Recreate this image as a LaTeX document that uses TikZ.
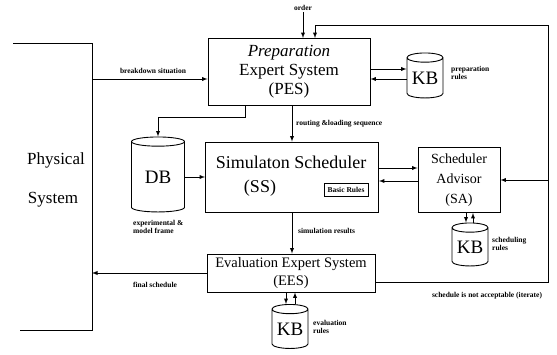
\documentclass[tikz,border=0pt]{standalone}
\usepackage{fontspec}
\setmainfont{Liberation Serif}
\newfontfamily\timesfont{Liberation Serif}
\usetikzlibrary{shapes.geometric}
\newcommand{\bigtext}{\timesfont\fontsize{17}{19}\selectfont}
\newcommand{\tinybold}{\timesfont\fontsize{7.5}{8.5}\selectfont\bfseries}

\begin{document}
\begin{tikzpicture}[x=1pt,y=-1pt,>=latex]

%
% Styles
%
\tikzstyle{block} = [rectangle,draw,line width=0.9pt,inner sep=0pt,align=center]
\tikzstyle{store} = [cylinder,shape border rotate=90,aspect=0.35,draw,line width=0.9pt,inner sep=0pt,font=\timesfont\fontsize{19}{20}\selectfont]
\tikzstyle{note} = [font=\tinybold,align=left,inner sep=1pt]
\tikzstyle{flow} = [->,line width=0.9pt]

\useasboundingbox (0,0) rectangle (557,355);

\node[block,minimum width=162pt,minimum height=67pt,font=\bigtext] (pes) at (289,72) {\textit{Preparation}\\Expert System\\(PES)};
\node[block,minimum width=173pt,minimum height=70pt] (ss) at (292,177) {};
\node[font=\timesfont\fontsize{18}{20}\selectfont] (sstitle) at (291,162) {Simulaton Scheduler};
\node[font=\timesfont\fontsize{18}{20}\selectfont] (ssabbr) at (260,188) {(SS)};
\node[block,note,minimum width=44pt,minimum height=13pt] (rules) at (346,190) {Basic Rules};
\node[block,minimum width=82pt,minimum height=65pt,font=\timesfont\fontsize{14}{20}\selectfont] (sa) at (459,180) {Scheduler\\Advisor\\(SA)};
\node[block,minimum width=168pt,minimum height=38pt,font=\timesfont\fontsize{14.5}{18}\selectfont] (ees) at (291,273) {Evaluation Expert System\\(EES)};

\node[store,minimum width=53pt,minimum height=75pt] (db) at (158,177) {DB};
\node[store,minimum width=36pt,minimum height=45pt] (kbp) at (425,78) {KB};
\node[store,minimum width=36pt,minimum height=43pt] (kbs) at (470,247) {KB};
\node[store,minimum width=36pt,minimum height=44pt] (kbe) at (290,329) {KB};

\node[font=\bigtext] (phys) at (56,160) {Physical};
\node[font=\bigtext] (syst) at (53,200) {System};
\coordinate (phtop) at (92,43);
\coordinate (phbot) at (92,330);
\draw[line width=0.9pt] (13,43) -- (phtop) -- (phbot) -- (20,330);

\node[note] (order) at (303,8) {order};
\node[note,anchor=south] (bdnote) at (153,75) {breakdown situation};
\node[note,anchor=west] (rlnote) at (295,124) {routing \&loading sequence};
\node[note,anchor=north west] (dbnote) at (132,219) {experimental \&\\model frame};
\node[note,anchor=west] (kbpnote) at (450,73) {preparation\\rules};
\node[note,anchor=west] (kbsnote) at (491,244) {scheduling\\rules};
\node[note,anchor=west] (kbenote) at (312,327) {evaluation\\rules};
\node[note,anchor=west] (srnote) at (297,231) {simulation results};
\node[note,anchor=north] (fsnote) at (155,281) {final schedule};
\node[note,anchor=north] (itnote) at (487,291) {schedule is not acceptable (iterate)};
\coordinate (loopne) at (548,25);

\draw[flow] (order) -- (order |- pes.north);
\draw[flow] ([yshift=-9pt]ees.east) -| (loopne) -| ([xshift=26pt]pes.north);
\draw[flow] (sa.east -| loopne) -- (sa.east);
\draw[flow] (92,79) -- (pes.west |- 0,79);
\draw[flow] ([yshift=3pt]pes.east) -- ([yshift=3pt]pes.east -| kbp.west);
\draw[flow] ([yshift=-7pt]pes.east -| kbp.west) -- ([yshift=-7pt]pes.east);
\draw[flow] ([xshift=-44pt]pes.south) |- ([yshift=19pt]db.north) -- (db.north);
\draw[flow] ([xshift=3pt]pes.south) -- ([xshift=3pt]pes.south |- ss.north);
\draw[flow] (db.east) -- (db.east -| ss.west);
\draw[flow] ([yshift=9pt]ss.east) -- ([yshift=9pt]ss.east -| sa.west);
\draw[flow] ([yshift=-4pt]ss.east -| sa.west) -- ([yshift=-4pt]ss.east);
\draw[flow] ([xshift=7pt]sa.south) -- ([xshift=7pt]sa.south |- kbs.north);
\draw[flow] ([xshift=14pt]sa.south |- kbs.north) -- ([xshift=14pt]sa.south);
\draw[flow] (ss.south) -- (ss.south |- ees.north);
\draw[flow] ([xshift=-5pt]ees.south) -- ([xshift=-5pt]ees.south |- kbe.north);
\draw[flow] ([xshift=4pt]ees.south |- kbe.north) -- ([xshift=4pt]ees.south);
\draw[flow] (ees.west) -- (ees.west -| phtop);

\end{tikzpicture}
\end{document}
